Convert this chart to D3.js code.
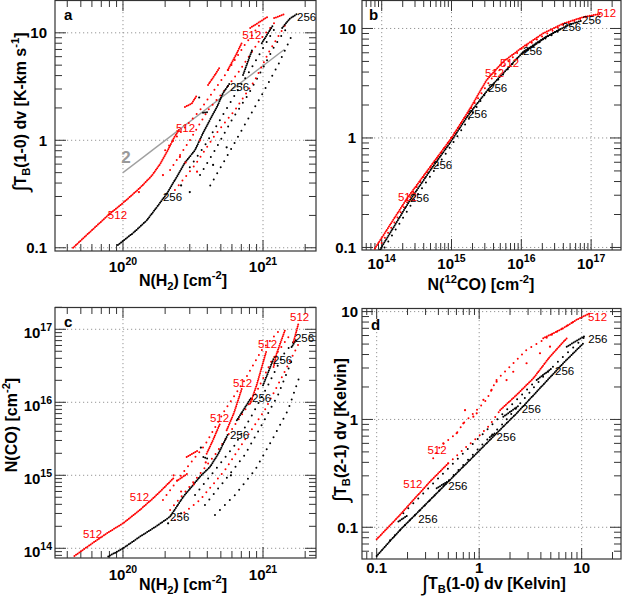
<!DOCTYPE html>
<html>
<head>
<meta charset="utf-8">
<script src="https://cdn.jsdelivr.net/npm/d3@7"></script>
<style>
  body { margin: 0; background: #fff; }
  text { font-family: "Liberation Sans", Arial, Helvetica, sans-serif; }
</style>
</head>
<body>
<div id="visualContainer"></div>
<script>
// ---------- panel a : integrated T_B(1-0) vs N(H2) ----------
var aXTicks = [1e20, 1e21];
var aYTicks = [0.1, 1, 10];
var aRedDense = [
  [[4.4e19,0.10],[5.8e19,0.14],[7.8e19,0.20],[1.03e20,0.27],[1.32e20,0.36],[1.61e20,0.47],[1.84e20,0.60],[2.06e20,0.78],[2.31e20,1.05],[2.51e20,1.25]],
  [[2.77e20,2.04],[3.1e20,2.2],[3.38e20,2.64]],
  [[4.05e20,3.27],[4.5e20,4.0],[4.93e20,4.81]],
  [[5.6e20,4.5],[6.4e20,6.2],[7.1e20,8.2]],
  [[8.1e20,11.1],[1.07e21,14.0]],
  [[1.2e21,13.7],[1.44e21,15.0]]
];
var aRedSparse = [
  [[2.0e20,0.81],[3.55e20,1.91],[5.35e20,4.05],[7.4e20,7.7],[9.8e20,12.6]],
  [[2.17e20,0.53],[3.0e20,1.0],[4.05e20,1.91],[5.35e20,2.94],[6.85e20,4.5],[9.5e20,8.6],[1.22e21,12.6]],
  [[2.35e20,0.345],[3.27e20,0.59],[4.54e20,1.12],[6.3e20,1.91],[8.77e20,3.64],[1.12e21,6.9],[1.44e21,11.8]]
];
var aRedScatter = [[1.93e20,0.475],[3.38e20,0.51],[2.55e20,0.70],[3.55e20,1.0],[1.3e20,0.33],[2.8e20,0.62]];
var aBlackDense = [
  [[9.2e19,0.106],[1.18e20,0.137],[1.48e20,0.18],[1.75e20,0.24],[2.06e20,0.32],[2.43e20,0.46],[2.77e20,0.62],[3.27e20,0.81],[3.73e20,1.17],[4.18e20,1.55],[4.69e20,2.04],[5.18e20,2.75],[5.8e20,3.41]],
  [[7.2e20,4.05],[8.35e20,6.9]],
  [[9.8e20,8.0],[1.18e21,11.8]],
  [[1.37e21,11.1],[1.55e21,13.5],[1.75e21,15.0]],
  [[3.73e20,1.8],[4.05e20,1.83]]
];
var aBlackSparse = [
  [[3.0e20,0.56],[3.85e20,0.90],[4.93e20,1.55],[6.3e20,2.64],[8.1e20,4.5],[1.0e21,7.2],[1.22e21,11.1]],
  [[3.55e20,0.475],[4.54e20,0.81],[6.0e20,1.55],[7.8e20,2.64],[9.8e20,4.5],[1.22e21,7.7],[1.48e21,11.1]],
  [[4.2e20,0.38],[5.6e20,0.73],[7.4e20,1.39],[9.8e20,2.64],[1.28e21,5.0],[1.61e21,9.5]]
];
var aBlackScatter = [[3.0e20,0.33],[4.4e20,0.59],[5.5e20,0.86],[2.6e20,0.38],[3.5e20,2.5]];
var aRedLabels = [[7.8e19,0.20],[2.39e20,1.30],[7.1e20,9.5]];
var aBlackLabels = [[1.93e20,0.30],[5.8e20,3.13],[1.75e21,14.0]];
var aFactorLine = [[1.0e20,0.50],[1.42e21,7.0]];
var aFactorLabel = [9.7e19,0.615];

// ---------- panel b : integrated T_B(1-0) vs N(12CO) ----------
var bXTicks = [1e14, 1e15, 1e16, 1e17];
var bYTicks = [0.1, 1, 10];
var bRedDense = [
  [[8.0e13,0.098],[2.3e14,0.28],[5.0e14,0.55],[1.0e15,1.0],[1.84e15,1.85],[3.19e15,3.39],[5.52e15,4.98],[1.07e16,6.82],[2.07e16,9.04],[4.0e16,11.1],[7.7e16,12.7],[1.34e17,13.6]]
];
var bRedSparse = [
  [[1.0e14,0.11],[3.0e14,0.34],[8.0e14,0.82],[2.0e15,1.95],[4.0e15,3.7],[1.0e16,6.5],[2.07e16,8.6],[4.0e16,10.8],[7.7e16,12.5],[1.2e17,13.3]]
];
var bRedScatter = [];
var bBlackDense = [
  [[9.5e13,0.096],[2.54e14,0.27],[5.43e14,0.55],[9.5e14,0.9],[1.74e15,1.62],[3.37e15,2.79],[1.07e16,6.14],[2.2e16,8.3],[3.79e16,10.0]],
  [[1.07e16,6.0],[2.3e16,8.4],[4.5e16,10.6],[7.3e16,11.8]]
];
var bBlackSparse = [
  [[1.1e14,0.1],[3.0e14,0.28],[1.0e15,0.86],[3.0e15,2.5],[1.0e16,5.8],[2.0e16,7.8],[3.8e16,9.8]]
];
var bBlackScatter = [];
var bRedLabels = [[1.71e14,0.29],[3.02e15,3.92],[4.95e15,4.84],[1.21e17,13.9]];
var bBlackLabels = [[2.54e14,0.283],[5.43e14,0.567],[1.72e15,1.66],[3.34e15,2.86],[1.06e16,6.23],[3.83e16,10.3],[7.4e16,12.0]];

// ---------- panel c : N(CO) vs N(H2) ----------
var cXTicks = [1e20, 1e21];
var cYTicks = [1e14, 1e15, 1e16, 1e17];
var cRedDense = [
  [[4.5e19,7.85e13],[5.8e19,1.11e14],[7.66e19,1.6e14],[1.0e20,2.2e14],[1.32e20,3.35e14],[1.64e20,4.84e14],[1.94e20,6.6e14],[2.29e20,9.1e14]],
  [[2.43e20,8.4e14],[2.86e20,1.04e15]],
  [[2.85e20,1.78e15],[3.45e20,2.2e15]],
  [[3.96e20,1.98e15],[4.4e20,3.05e15],[4.93e20,5.1e15]],
  [[5.5e20,4.13e15],[6.2e20,7.13e15],[7.05e20,1.53e16]],
  [[8.1e20,9.6e15],[9.0e20,1.71e16],[1.06e21,5.15e16]],
  [[1.19e21,3.05e16],[1.25e21,4.64e16],[1.44e21,9.9e16]],
  [[1.65e21,6.7e16],[1.79e21,1.19e17]]
];
var cRedSparse = [
  [[1.93e20,4.6e14],[2.77e20,1.18e15],[3.85e20,2.6e15],[5.35e20,7.85e15],[7.4e20,2.02e16],[9.8e20,5.2e16],[1.32e21,9.8e16]],
  [[2.17e20,3.35e14],[3.27e20,8.6e14],[4.54e20,1.9e15],[6.3e20,4.9e15],[8.77e20,1.26e16],[1.16e21,3.8e16],[1.56e21,8.4e16]],
  [[2.35e20,2.44e14],[3.55e20,4.6e14],[5.35e20,1.18e15],[7.4e20,3.05e15],[1.03e21,7.85e15],[1.39e21,2.37e16],[1.78e21,6.1e16]]
];
var cRedScatter = [[2.6e20,6.0e14],[3.2e20,7.5e14],[2.3e20,1.0e15],[3.9e20,1.5e15]];
var cBlackDense = [
  [[7.85e19,7.7e13],[1.0e20,1.0e14],[1.32e20,1.44e14],[1.74e20,2.02e14],[2.17e20,2.71e14],[2.7e20,5.1e14],[3.1e20,7.0e14],[3.55e20,9.6e14],[4.18e20,1.3e15],[4.8e20,1.98e15],[5.65e20,3.72e15]],
  [[6.5e20,5.66e15],[8.3e20,1.18e16]],
  [[1.0e21,1.71e16],[1.19e21,3.95e16]],
  [[1.6e21,5.7e16],[1.74e21,7.4e16]],
  [[3.75e20,1.78e15],[4.07e20,1.68e15]]
];
var cBlackSparse = [
  [[3.27e20,5.37e14],[4.54e20,1.18e15],[6.3e20,2.6e15],[8.35e20,6.7e15],[1.09e21,1.73e16],[1.39e21,4.45e16],[1.69e21,7.1e16]],
  [[3.85e20,3.92e14],[5.35e20,8.6e14],[7.4e20,1.9e15],[9.8e20,4.9e15],[1.28e21,1.26e16],[1.61e21,3.8e16]],
  [[4.54e20,2.86e14],[6.3e20,5.37e14],[8.77e20,1.18e15],[1.16e21,3.05e15],[1.51e21,7.85e15],[1.84e21,2.37e16]]
];
var cBlackScatter = [[2.1e20,2.2e14],[2.6e20,3.0e14],[3.6e20,2.4e15],[5.9e20,1.0e15]];
var cRedLabels = [[5.18e19,1.57e14],[1.12e20,5.05e14],[4.18e20,6.1e15],[6.1e20,1.84e16],[9.2e20,6.3e16],[1.56e21,1.48e17]];
var cBlackLabels = [[2.17e20,2.68e14],[5.8e20,3.56e15],[8.35e20,1.15e16],[1.18e21,3.79e16],[1.69e21,7.6e16]];

// ---------- panel d : integrated T_B(2-1) vs integrated T_B(1-0) ----------
var dXTicks = [0.1, 1, 10];
var dYTicks = [0.1, 1, 10];
var dRedDense = [
  [[0.10,0.0774],[0.157,0.121],[0.228,0.179],[0.331,0.265],[0.5,0.393]],
  [[1.6,1.22],[2.32,1.69],[3.38,2.41],[4.91,3.83],[7.15,5.66]],
  [[4.22,5.66],[6.6,7.0],[8.93,8.4],[12.05,9.67]]
];
var dRedSparse = [
  [[0.356,0.437],[0.415,0.56],[0.603,0.745],[0.70,0.92],[0.946,1.22],[1.18,1.52],[1.48,2.33],[2.0,3.09],[2.9,4.41],[4.22,5.47],[6.14,6.77],[8.93,8.38]],
  [[0.5,0.393],[0.755,0.56],[0.98,0.69],[1.27,0.89],[1.6,1.22]]
];
var dRedScatter = [[0.603,0.745],[0.70,0.92],[0.946,1.14],[1.1,1.52],[1.32,1.88],[1.48,2.24],[1.85,2.32],[2.15,2.77],[2.9,3.32],[3.92,4.11],[4.91,4.73],[0.447,0.60],[0.728,1.22],[0.877,1.06]];
var dBlackDense = [
  [[0.10,0.0542],[0.169,0.0944],[0.285,0.155],[0.482,0.256],[0.813,0.421],[1.37,0.692],[2.32,1.14],[3.92,1.95],[6.6,3.32],[10.4,5.09]],
  [[0.163,0.113],[0.203,0.13]],
  [[0.385,0.23],[0.489,0.265]],
  [[1.27,0.684],[1.43,0.745]],
  [[1.72,1.06],[2.4,1.33]],
  [[3.64,2.32],[5.1,2.98]],
  [[7.15,4.73],[10.8,5.96]]
];
var dBlackSparse = [
  [[0.135,0.076],[0.228,0.125],[0.385,0.206],[0.65,0.352],[1.1,0.60],[1.72,0.92],[2.69,1.52],[4.22,2.5],[6.6,3.83],[10.8,5.86]],
  [[0.182,0.135],[0.285,0.206],[0.447,0.317],[0.70,0.485],[1.02,0.69],[1.48,0.99],[2.32,1.52],[3.64,2.32]]
];
var dBlackScatter = [];
var dRedLabels = [[0.182,0.252],[0.313,0.52],[11.5,8.9]];
var dBlackLabels = [[0.255,0.119],[0.5,0.242],[1.48,0.69],[2.6,1.24],[5.5,2.82],[11.6,5.55]];

// ---------- drawing ----------
var svgCanvas = d3.select("#visualContainer")
  .append("svg")
  .attr("width", 623)
  .attr("height", 597);

svgCanvas.append("rect").attr("width", 623).attr("height", 597).attr("fill", "#fff");

// text with sub / sup parts
function richText(sel, parts, base) {
  var shift = 0;
  parts.forEach(function(p) {
    var target = 0;
    var t = sel.append("tspan").text(p[0]);
    if (p[1] === "sub") { target = 4; t.attr("font-size", base * 0.7 + "px"); }
    if (p[1] === "sup") { target = -7; t.attr("font-size", base * 0.7 + "px"); }
    if (p[1] === "int") { target = 2; t.attr("font-size", base * 1.35 + "px").attr("font-weight", "normal"); }
    t.attr("dy", target - shift);
    shift = target;
  });
}

function isDecade(v) {
  var l = Math.log10(v);
  return Math.abs(l - Math.round(l)) < 1e-6;
}

function drawPanel(p) {
  var x0 = p.box[0], y0 = p.box[1], x1 = p.box[2], y1 = p.box[3];
  var x = d3.scaleLog().domain(p.xDom).range([x0, x1]);
  var y = d3.scaleLog().domain(p.yDom).range([y1, y0]);
  var g = svgCanvas.append("g");

  svgCanvas.append("clipPath").attr("id", "clip-" + p.id)
    .append("rect").attr("x", x0).attr("y", y0).attr("width", x1 - x0).attr("height", y1 - y0);

  // dotted grid at decades
  p.xTicks.forEach(function(v) {
    g.append("line").attr("x1", x(v)).attr("x2", x(v)).attr("y1", y0).attr("y2", y1)
      .attr("stroke", "#8a8a8a").attr("stroke-width", 0.9).attr("stroke-dasharray", "1.2,2.8");
  });
  p.yTicks.forEach(function(v) {
    g.append("line").attr("x1", x0).attr("x2", x1).attr("y1", y(v)).attr("y2", y(v))
      .attr("stroke", "#8a8a8a").attr("stroke-width", 0.9).attr("stroke-dasharray", "1.2,2.8");
  });

  // inward ticks on all four sides
  x.ticks().forEach(function(v) {
    var len = isDecade(v) ? 11 : 7;
    var xp = x(v);
    g.append("line").attr("x1", xp).attr("x2", xp).attr("y1", y1).attr("y2", y1 - len).attr("stroke", "#333");
    g.append("line").attr("x1", xp).attr("x2", xp).attr("y1", y0).attr("y2", y0 + len).attr("stroke", "#333");
  });
  y.ticks().forEach(function(v) {
    var len = isDecade(v) ? 11 : 7;
    var yp = y(v);
    g.append("line").attr("x1", x0).attr("x2", x0 + len).attr("y1", yp).attr("y2", yp).attr("stroke", "#333");
    g.append("line").attr("x1", x1).attr("x2", x1 - len).attr("y1", yp).attr("y2", yp).attr("stroke", "#333");
  });

  // frame
  g.append("rect").attr("x", x0).attr("y", y0 + 0.5).attr("width", x1 - x0).attr("height", y1 - y0 - 0.5)
    .attr("fill", "none").attr("stroke", "#333").attr("stroke-width", 1.2);

  // tick labels
  p.xTicks.forEach(function(v) {
    var t = g.append("text").attr("x", x(v)).attr("y", y1 + p.xLabDy)
      .attr("text-anchor", "middle").attr("font-size", "15px").attr("font-weight", "bold");
    if (p.xPow) richText(t, [["10", ""], [String(Math.round(Math.log10(v))), "sup"]], 15);
    else t.text(d3.format("~g")(v));
  });
  p.yTicks.forEach(function(v) {
    var t = g.append("text").attr("x", x0 - p.yLabDx).attr("y", y(v) + (p.yPow ? 9 : 5.5))
      .attr("text-anchor", "end").attr("font-size", "15px").attr("font-weight", "bold");
    if (p.yPow) richText(t, [["10", ""], [String(Math.round(Math.log10(v))), "sup"]], 15);
    else t.text(d3.format("~g")(v));
  });

  // axis titles
  if (p.xTitle) {
    var xt = g.append("text").attr("x", p.xTitlePos[0]).attr("y", p.xTitlePos[1])
      .attr("text-anchor", "middle").attr("font-size", "16px").attr("font-weight", "bold");
    richText(xt, p.xTitle, 16);
  }
  if (p.yTitle) {
    var yt = g.append("text")
      .attr("transform", "translate(" + p.yTitlePos[0] + "," + p.yTitlePos[1] + ") rotate(-90)")
      .attr("text-anchor", "middle").attr("font-size", "16px").attr("font-weight", "bold");
    richText(yt, p.yTitle, 16);
  }

  // panel letter
  g.append("text").attr("x", p.letterPos[0]).attr("y", p.letterPos[1])
    .attr("font-size", "15px").attr("font-weight", "bold").text(p.id);

  // data
  var dg = svgCanvas.append("g").attr("clip-path", "url(#clip-" + p.id + ")");
  var line = d3.line().x(function(d) { return x(d[0]); }).y(function(d) { return y(d[1]); });

  function dots(list, color, gap) {
    dg.selectAll(null).data(list).enter()
      .append("path")
        .attr("d", line)
        .attr("fill", "none")
        .attr("stroke", color)
        .attr("stroke-width", 2)
        .attr("stroke-linecap", "round")
        .attr("stroke-dasharray", "0 " + gap);
  }
  function scatter(list, color) {
    dg.selectAll(null).data(list).enter()
      .append("circle")
        .attr("cx", function(d) { return x(d[0]); })
        .attr("cy", function(d) { return y(d[1]); })
        .attr("r", 1.1)
        .attr("fill", color);
  }

  if (p.factorLine) {
    dg.append("path").attr("d", line(p.factorLine)).attr("stroke", "#a0a0a0").attr("stroke-width", 1.4).attr("fill", "none");
    dg.append("text").attr("x", x(p.factorLabel[0])).attr("y", y(p.factorLabel[1]))
      .attr("font-size", "17px").attr("font-weight", "bold").attr("fill", "#9a9a9a").text("2");
  }

  dots(p.blackSparse, "#000", 7);
  dots(p.redSparse, "#ff0000", 6);
  dots(p.blackDense, "#000", 2);
  dots(p.redDense, "#ff0000", 2);
  scatter(p.blackScatter, "#000");
  scatter(p.redScatter, "#ff0000");

  dg.selectAll(null).data(p.redLabels).enter()
    .append("text")
      .attr("x", function(d) { return x(d[0]); })
      .attr("y", function(d) { return y(d[1]); })
      .attr("dy", "0.35em")
      .attr("font-size", "11.5px")
      .attr("fill", "#ff0000")
      .text("512");
  dg.selectAll(null).data(p.blackLabels).enter()
    .append("text")
      .attr("x", function(d) { return x(d[0]); })
      .attr("y", function(d) { return y(d[1]); })
      .attr("dy", "0.35em")
      .attr("font-size", "11.5px")
      .attr("fill", "#000")
      .text("256");
}

var tb10 = [["\u222B", "int"], ["T", ""], ["B", "sub"], ["(1-0) dv [K-km s", ""], ["-1", "sup"], ["]", ""]];
var nh2 = [["N(H", ""], ["2", "sub"], [") [cm", ""], ["-2", "sup"], ["]", ""]];

var panels = [
  { id: "a", box: [55, 0, 316, 251], xDom: [3.27e19, 2.39e21], yDom: [0.0933, 20.2],
    xTicks: aXTicks, yTicks: aYTicks, xPow: true, yPow: false, xLabDy: 21, yLabDx: 8,
    xTitle: nh2, xTitlePos: [183, 286], yTitle: tb10, yTitlePos: [26, 112], letterPos: [64, 20],
    redDense: aRedDense, redSparse: aRedSparse, redScatter: aRedScatter,
    blackDense: aBlackDense, blackSparse: aBlackSparse, blackScatter: aBlackScatter,
    redLabels: aRedLabels, blackLabels: aBlackLabels, factorLine: aFactorLine, factorLabel: aFactorLabel },
  { id: "b", box: [362, 0, 621, 250], xDom: [5.22e13, 2.68e17], yDom: [0.0948, 18.2],
    xTicks: bXTicks, yTicks: bYTicks, xPow: true, yPow: false, xLabDy: 19, yLabDx: 6,
    xTitle: [["N(", ""], ["12", "sup"], ["CO) [cm", ""], ["-2", "sup"], ["]", ""]], xTitlePos: [481, 290],
    yTitle: null, letterPos: [369, 20],
    redDense: bRedDense, redSparse: bRedSparse, redScatter: bRedScatter,
    blackDense: bBlackDense, blackSparse: bBlackSparse, blackScatter: bBlackScatter,
    redLabels: bRedLabels, blackLabels: bBlackLabels },
  { id: "c", box: [55, 307, 316, 558], xDom: [3.27e19, 2.39e21], yDom: [7.36e13, 2.02e17],
    xTicks: cXTicks, yTicks: cYTicks, xPow: true, yPow: true, xLabDy: 22, yLabDx: 3,
    xTitle: nh2, xTitlePos: [183, 590],
    yTitle: [["N(CO) [cm", ""], ["-2", "sup"], ["]", ""]], yTitlePos: [17, 425], letterPos: [64, 327],
    redDense: cRedDense, redSparse: cRedSparse, redScatter: cRedScatter,
    blackDense: cBlackDense, blackSparse: cBlackSparse, blackScatter: cBlackScatter,
    redLabels: cRedLabels, blackLabels: cBlackLabels },
  { id: "d", box: [362, 308, 621, 559], xDom: [0.0719, 24.2], yDom: [0.0508, 10.8],
    xTicks: dXTicks, yTicks: dYTicks, xPow: false, yPow: false, xLabDy: 14, yLabDx: 4,
    xTitle: [["\u222B", "int"], ["T", ""], ["B", "sub"], ["(1-0) dv [Kelvin]", ""]], xTitlePos: [494, 589],
    yTitle: [["\u222B", "int"], ["T", ""], ["B", "sub"], ["(2-1) dv [Kelvin]", ""]], yTitlePos: [346, 430],
    letterPos: [371, 330],
    redDense: dRedDense, redSparse: dRedSparse, redScatter: dRedScatter,
    blackDense: dBlackDense, blackSparse: dBlackSparse, blackScatter: dBlackScatter,
    redLabels: dRedLabels, blackLabels: dBlackLabels }
];

panels.forEach(drawPanel);
</script>
</body>
</html>
